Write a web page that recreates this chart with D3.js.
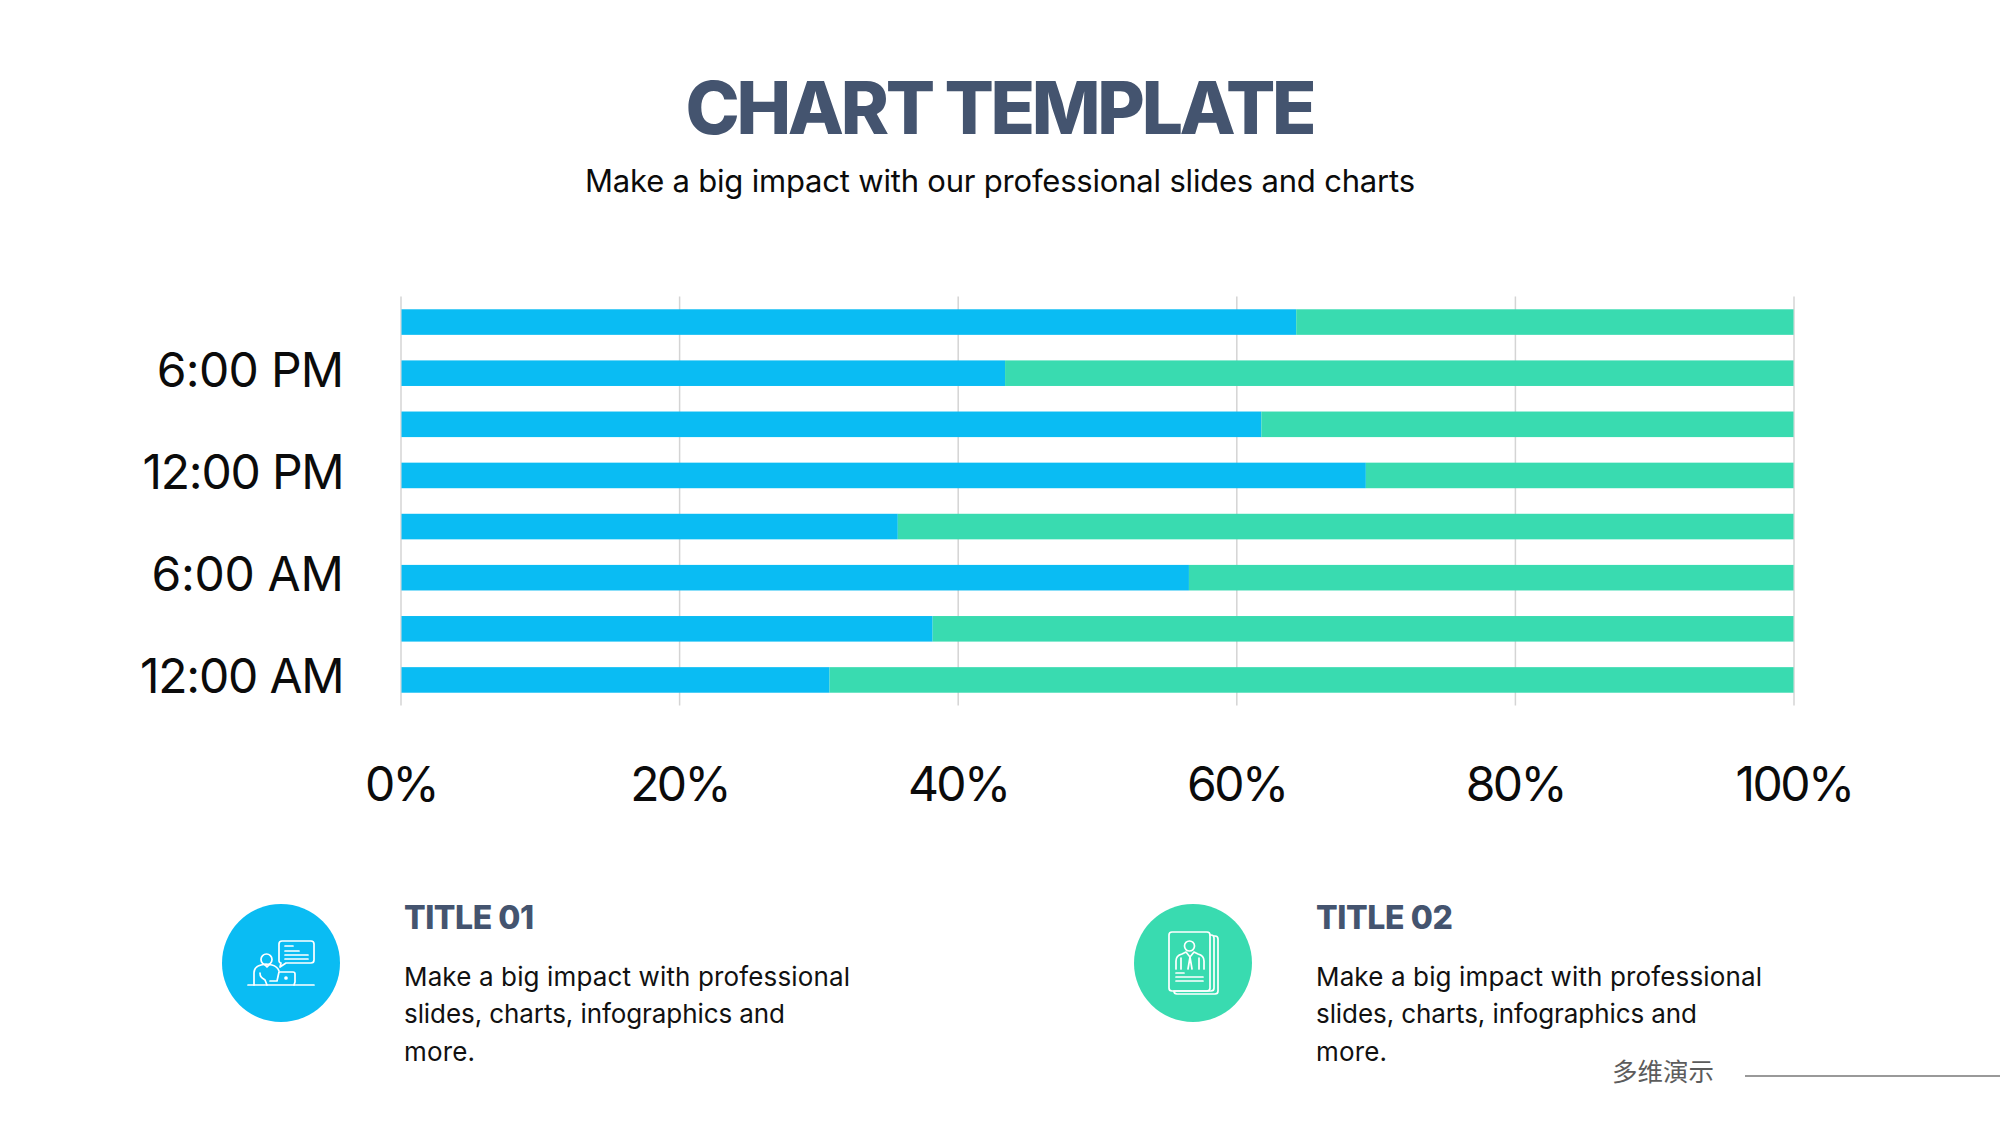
<!DOCTYPE html>
<html><head><meta charset="utf-8">
<script src="https://cdn.jsdelivr.net/npm/d3@7/dist/d3.min.js"></script>
<style>html,body{margin:0;padding:0;background:#fff}svg{display:block}text{font-family:Inter,"Noto Sans",sans-serif}</style>
</head><body><svg id="c" width="2000" height="1125"></svg>
<script>
const categories=["12:00 AM","3:00 AM","6:00 AM","9:00 AM","12:00 PM","3:00 PM","6:00 PM","9:00 PM"];
const shownCategories=["12:00 AM","6:00 AM","12:00 PM","6:00 PM"];
const seriesA=[30.8,38.2,56.6,35.7,69.3,61.8,43.4,64.3];
const seriesB=seriesA.map(v=>100-v);
const xTicks=[0,20,40,60,80,100];
const colors=["#0abcf3","#39dbb0"];

const svg=d3.select("#c");
svg.append("rect").attr("width",2000).attr("height",1125).attr("fill","#fff");
const x=d3.scaleLinear().domain([0,100]).range([400.5,1793.5]);
const y=d3.scaleBand().domain(categories).range([705.5,296.5]).paddingInner(0.5).paddingOuter(0.25);

svg.append("g").attr("transform","translate(0,705.5)")
 .call(d3.axisBottom(x).tickValues(xTicks).tickSize(-409).tickFormat(d=>d+"%").tickPadding(61))
 .call(g=>{g.select(".domain").remove();
   g.selectAll("line").attr("stroke","#d4d4d4").attr("stroke-width",1.5);
   g.selectAll("text").attr("font-size",48).attr("fill","#0b0b0b").attr("font-family","Inter")
    .attr("letter-spacing",-2.6).attr("dy","0.71em");});

const stack=categories.map((c,i)=>({c,a:seriesA[i],b:seriesB[i]}));
svg.append("g").selectAll("rect").data(stack).join("rect")
 .attr("x",x(0)+1).attr("y",d=>y(d.c)).attr("height",y.bandwidth()).attr("width",d=>x(d.a)-x(0)-1).attr("fill",colors[0]);
svg.append("g").selectAll("rect").data(stack).join("rect")
 .attr("x",d=>x(d.a)).attr("y",d=>y(d.c)).attr("height",y.bandwidth()).attr("width",d=>x(100)-x(d.a)).attr("fill",colors[1]);

const yLabelLetterSpacing={"12:00 AM":-1.2,"6:00 AM":-0.3,"12:00 PM":-1.2,"6:00 PM":-0.7};
svg.append("g").attr("transform","translate(400.5,0)")
 .call(d3.axisLeft(y).tickValues(shownCategories).tickSize(0).tickPadding(57))
 .call(g=>{g.select(".domain").remove();
   g.selectAll("text").attr("font-size",48).attr("fill","#0b0b0b").attr("font-family","Inter")
    .attr("letter-spacing",d=>yLabelLetterSpacing[d]).attr("dy","0.28em");});

function txt(s,xp,yp,size,weight,fill,anchor,len){
 const t=svg.append("text").text(s).attr("x",xp).attr("y",yp).attr("font-size",size)
  .attr("font-weight",weight).attr("fill",fill).attr("text-anchor",anchor||"start");
 if(len) t.attr("textLength",len).attr("lengthAdjust","spacing");
 return t;
}
txt("CHART TEMPLATE",1001,134,73,800,"#44546f","middle",631);
txt("Make a big impact with our professional slides and charts",1000,192,31,400,"#0b0b0b","middle",830);

const titleColor="#44546f", body="#111";
const blocks=[{x:404,t:"TITLE 01",w:130},{x:1316,t:"TITLE 02",w:137}];
const bodyLines=[["Make a big impact with professional",446],["slides, charts, infographics and",381],["more.",71]];
blocks.forEach(b=>{
 txt(b.t,b.x,928.500,32,800,titleColor,"start",b.w);
 bodyLines.forEach((l,i)=>txt(l[0],b.x,985.500+i*37.7,26,400,body,"start",l[1]));
});

const ic=(cx,cy,col,tx)=>{
 svg.append("circle").attr("cx",cx).attr("cy",cy).attr("r",59).attr("fill",col);
 return svg.append("g").attr("fill","none").attr("stroke","#fff").attr("stroke-width",1.7).attr("stroke-linecap","round").attr("stroke-linejoin","round");};
const i1=ic(281,963,colors[0]);
const p1=(d)=>i1.append("path").attr("d",d);
p1("M248 985H314");
i1.append("circle").attr("cx",266.5).attr("cy",959.5).attr("r",5.5);
p1("M279 944a3 3 0 0 1 3-3h29a3 3 0 0 1 3 3v16a3 3 0 0 1-3 3h-25l-6 4l1-4a2.500 2.500 0 0 1-2-3z");
p1("M285 946h8M285 951h14M285 955h23M285 959h23");
p1("M254 985v-12c0-5 3-7 7-8l5-1 6 1c4 1 6 3 7 6");
p1("M260 973c0 4 2 5 5 7l2 5M270 981h7l2-9h14c1 0 2 1 2 2v8l-1 3");
p1("M265 965l2 2 2-2");
i1.append("circle").attr("cx",286).attr("cy",978).attr("r",1).attr("fill","#fff");
const i2=ic(1193,963,colors[1]);
const p2=(d)=>i2.append("path").attr("d",d);
p2("M1169 935a3 3 0 0 1 3-3h35a3 3 0 0 1 3 3v53a3 3 0 0 1-3 3h-35a3 3 0 0 1-3-3z");
p2("M1210 935h1a3 3 0 0 1 3 3v50a3 3 0 0 1-3 3h-36");
p2("M1214 936h1a3 3 0 0 1 3 3v52a3 3 0 0 1-3 3h-38a3 3 0 0 1-3-3");
i2.append("circle").attr("cx",1189.500).attr("cy",946).attr("r",5);
p2("M1176 969v-8c0-4 2-6 6-7l4-2 4 5 4-5 4 2c4 1 6 3 6 7v8");
p2("M1181 958v11M1199 958v11M1190 957l-2 12M1190 957l2 12");
p2("M1176 973h8M1176 977h27M1176 981h27");

txt("多维演示",1612,1081,25.500,400,"#5c5c5c","start").style("font-family",'"Noto Sans CJK SC"');
svg.append("line").attr("x1",1745).attr("x2",2000).attr("y1",1076).attr("y2",1076).attr("stroke","#777").attr("stroke-width",1.5);
</script></body></html>
